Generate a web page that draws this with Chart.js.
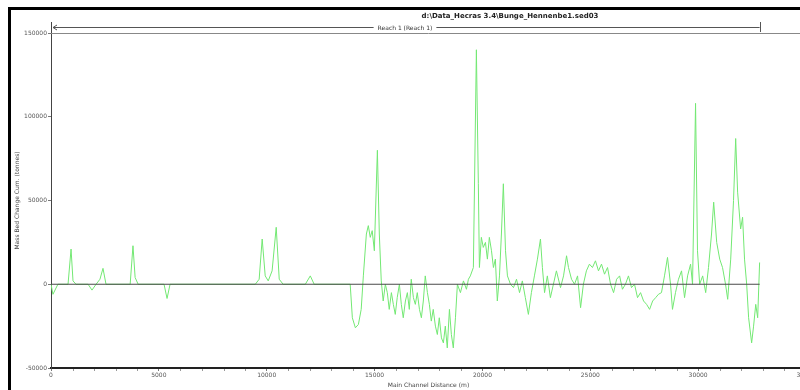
<!DOCTYPE html>
<html>
<head>
<meta charset="utf-8">
<script src="https://cdn.jsdelivr.net/npm/chart.js@4"></script>
<style>
  html, body { margin: 0; padding: 0; background: #fff; overflow: hidden; width: 800px; height: 390px; }
  #wrap { position: absolute; left: 0; top: 0; width: 820px; height: 390px; }
</style>
</head>
<body>
<div id="wrap"><canvas id="chart" width="820" height="390"></canvas></div>
<script>
// main channel distance (m) and cumulative mass bed change (tonnes)
const channelDist = [
  0, 90, 320, 790, 930, 1020, 1160, 1720, 1900, 2090, 2270, 2410, 2550,
  3670, 3800, 3900, 4040, 5240, 5380, 5520,
  9470, 9650, 9790, 9930, 10070, 10250, 10440, 10580, 10760,
  11790, 12020, 12200,
  13870, 13970, 14110, 14250, 14380, 14480, 14620, 14710, 14800, 14890, 14990,
  15130, 15220, 15310, 15400, 15500, 15590, 15680, 15780, 15870, 15960, 16050,
  16150, 16240, 16330, 16430, 16520, 16610, 16700, 16800, 16890, 16980, 17080,
  17170, 17260, 17350, 17450, 17540, 17630, 17720, 17820, 17910, 18000, 18100,
  18190, 18280, 18370, 18470, 18560, 18650, 18750, 18840, 18980, 19120, 19260,
  19350, 19440, 19580, 19720, 19810, 19860, 19950, 20040, 20140, 20230, 20320,
  20420, 20510, 20600, 20690, 20790, 20880, 20970, 21070, 21160, 21300, 21440,
  21580, 21720, 21850, 21990, 22130, 22270, 22410, 22550, 22690, 22780, 22880,
  23010, 23150, 23290, 23430, 23620, 23760, 23900, 23990, 24130, 24270, 24410,
  24550, 24680, 24820, 24960, 25100, 25240, 25380, 25520, 25660, 25800, 25940,
  26080, 26220, 26360, 26490, 26630, 26770, 26910, 27050, 27190, 27330, 27470,
  27610, 27750, 27890, 28030, 28160, 28300, 28440, 28580, 28720, 28810, 28950,
  29090, 29230, 29370, 29510, 29650, 29740, 29880, 29970, 30070, 30210, 30350,
  30480, 30620, 30720, 30860, 31000, 31130, 31270, 31370, 31510, 31640, 31740,
  31830, 31970, 32060, 32150, 32250, 32340, 32480, 32570, 32670, 32760, 32850
];
const bedChange = [
  0, -6000, 0, 0, 21000, 2000, 0, 0, -3500, 0, 3000, 9500, 0,
  0, 23000, 4000, 0, 0, -8500, 0,
  0, 3000, 27000, 5000, 2000, 8000, 34000, 3000, 0,
  0, 5000, 0,
  0, -20000, -26000, -24000, -15000, 5000, 30000, 35000, 28000, 32000, 20000,
  80000, 30000, 2000, -10000, 0, -5000, -15000, -5000, -12000, -18000, -8000,
  0, -12000, -20000, -10000, -5000, -15000, 3000, -8000, -12000, -5000, -15000,
  -20000, -10000, 5000, -5000, -12000, -22000, -15000, -25000, -30000, -20000, -32000,
  -35000, -25000, -38000, -15000, -30000, -38000, -20000, 0, -5000, 2000, -3000,
  3000, 5000, 10000, 140000, 60000, 10000, 28000, 22000, 25000, 15000, 28000,
  20000, 10000, 15000, -10000, 5000, 30000, 60000, 20000, 5000, 0, -2000,
  3000, -5000, 2000, -8000, -18000, -5000, 5000, 15000, 27000, 10000, -5000,
  5000, -8000, 0, 8000, -2000, 5000, 17000, 10000, 3000, 0, 5000,
  -14000, 0, 8000, 12000, 10000, 14000, 8000, 12000, 6000, 10000, 0,
  -5000, 3000, 5000, -3000, 0, 5000, -2000, 0, -8000, -5000, -10000,
  -12000, -15000, -10000, -8000, -6000, -5000, 5000, 16000, 0, -15000, -5000,
  3000, 8000, -8000, 5000, 12000, 0, 108000, 20000, 0, 5000, -5000,
  10000, 30000, 49000, 25000, 15000, 10000, 0, -9000, 15000, 50000, 87000,
  55000, 33000, 40000, 15000, 0, -20000, -35000, -25000, -12000, -20000, 13000
];
const zeroLineDist = [0, 32850];
const zeroLineVal = [0, 0];
const xTicks = [0, 5000, 10000, 15000, 20000, 25000, 30000, 35000];
const yTicks = [-50000, 0, 50000, 100000, 150000];

const chartTitle = "d:\\Data_Hecras 3.4\\Bunge_Hennenbe1.sed03";
const reachLabel = "Reach 1 (Reach 1)";

const seriesPoints = channelDist.map((d, i) => ({ x: d, y: bedChange[i] }));
const zeroPoints = zeroLineDist.map((d, i) => ({ x: d, y: zeroLineVal[i] }));

// frame, title, reach bracket and minor ticks
const decorations = {
  id: "decorations",
  afterDraw(chart) {
    const ctx = chart.ctx;
    const xs = chart.scales.x;
    const area = chart.chartArea;
    ctx.save();

    ctx.strokeStyle = "#000";
    ctx.lineWidth = 3;
    ctx.strokeRect(9.5, 8.5, 830, 420);

    ctx.fillStyle = "#222";
    ctx.font = "bold 7px 'DejaVu Sans'";
    ctx.textAlign = "center";
    ctx.textBaseline = "middle";
    ctx.fillText(chartTitle, 510, 16);

    // reach bracket
    const x0 = xs.getPixelForValue(zeroLineDist[0]) + 2;
    const x1 = xs.getPixelForValue(zeroLineDist[1]);
    ctx.font = "6px 'DejaVu Sans'";
    const tw = ctx.measureText(reachLabel).width;
    const tc = 405;
    ctx.strokeStyle = "#555";
    ctx.lineWidth = 1;
    ctx.beginPath();
    ctx.moveTo(x0, 27.5); ctx.lineTo(tc - tw / 2 - 4, 27.5);
    ctx.moveTo(tc + tw / 2 + 4, 27.5); ctx.lineTo(x1, 27.5);
    ctx.moveTo(x0 + 4, 25); ctx.lineTo(x0, 27.5); ctx.lineTo(x0 + 4, 30);
    ctx.moveTo(Math.round(x1) + 0.5, 22); ctx.lineTo(Math.round(x1) + 0.5, 32);
    ctx.stroke();
    ctx.fillStyle = "#333";
    ctx.fillText(reachLabel, tc, 28);

    // top line at chart top
    ctx.strokeStyle = "#888";
    ctx.beginPath();
    ctx.moveTo(area.left, Math.round(area.top) + 0.5);
    ctx.lineTo(area.right, Math.round(area.top) + 0.5);
    ctx.stroke();

    // y axis extends up to bracket
    ctx.strokeStyle = "#444";
    ctx.beginPath();
    ctx.moveTo(Math.round(area.left) + 0.5, 22);
    ctx.lineTo(Math.round(area.left) + 0.5, area.top);
    ctx.stroke();

    // minor ticks on x axis
    ctx.strokeStyle = "#999";
    ctx.beginPath();
    for (let v = 1000; v < 35000; v += 1000) {
      if (v % 5000 === 0) continue;
      const px = Math.round(xs.getPixelForValue(v)) + 0.5;
      ctx.moveTo(px, area.bottom + 1);
      ctx.lineTo(px, area.bottom + 3);
    }
    ctx.stroke();
    ctx.restore();
  }
};

new Chart(document.getElementById("chart"), {
  type: "line",
  data: {
    datasets: [
      { label: "zero", data: zeroPoints, borderColor: "#4a4a4a", borderWidth: 1.2, pointRadius: 0, order: 0 },
      { label: "Mass Bed Change Cum", data: seriesPoints, borderColor: "rgb(115,232,115)", borderWidth: 1, pointRadius: 0, tension: 0, order: 1 }
    ]
  },
  options: {
    responsive: false,
    animation: false,
    layout: { padding: { left: 10, top: 33, right: 14, bottom: 0 } },
    plugins: { legend: { display: false }, tooltip: { enabled: false } },
    scales: {
      x: {
        type: "linear",
        min: 0, max: 35000,
        afterBuildTicks: s => { s.ticks = xTicks.map(v => ({ value: v })); },
        afterFit: s => { s.height = 22; },
        grid: { drawOnChartArea: false, tickLength: 3, color: "#777" },
        border: { color: "#222", width: 2 },
        ticks: { font: { family: "DejaVu Sans", size: 6 }, color: "#555", padding: 1, maxRotation: 0, callback: v => String(v) },
        title: { display: true, text: "Main Channel Distance (m)", font: { family: "DejaVu Sans", size: 6 }, color: "#444", padding: { top: 0, bottom: 1 } }
      },
      y: {
        min: -50000, max: 150000,
        afterBuildTicks: s => { s.ticks = yTicks.map(v => ({ value: v })); },
        afterFit: s => { s.width = 41; },
        grid: { drawOnChartArea: false, tickLength: 3, color: "#777" },
        border: { color: "#444", width: 1 },
        ticks: { font: { family: "DejaVu Sans", size: 6 }, color: "#555", padding: 1, callback: v => String(v) },
        title: { display: true, text: "Mass Bed Change Cum. (tonnes)", font: { family: "DejaVu Sans", size: 6 }, color: "#444", padding: { top: 4, bottom: 4 } }
      }
    }
  },
  plugins: [decorations]
});
</script>
</body>
</html>
